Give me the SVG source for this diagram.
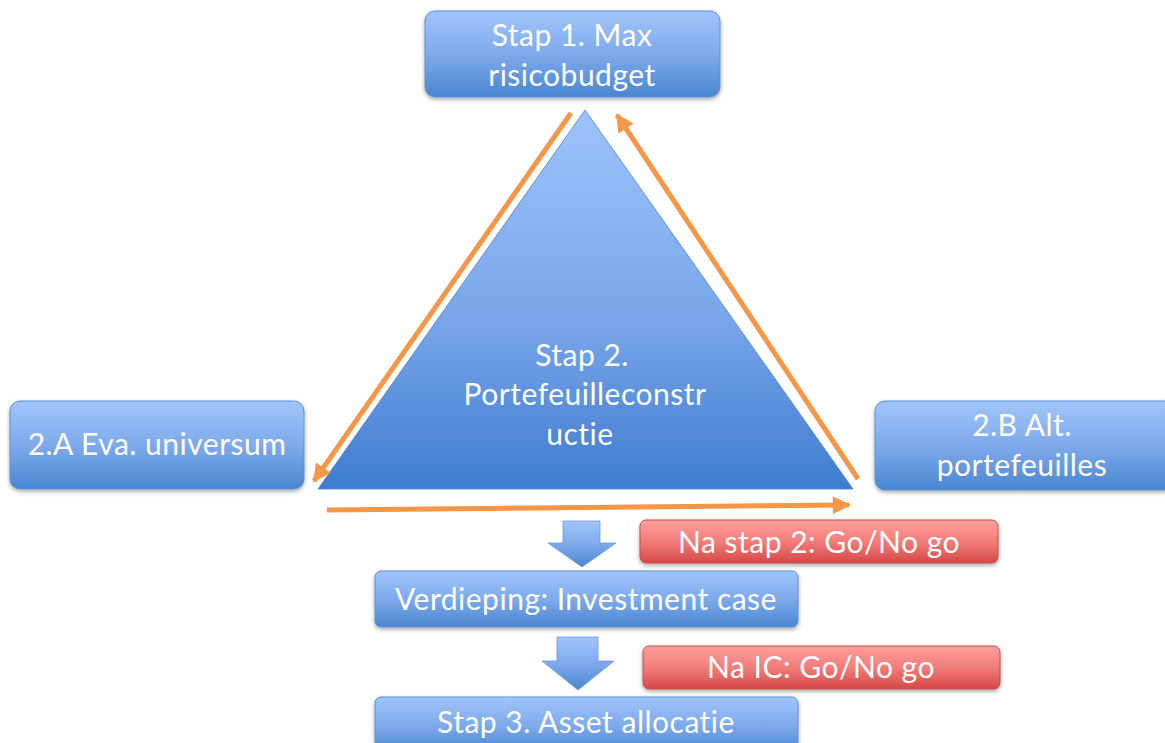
<svg xmlns="http://www.w3.org/2000/svg" width="1165" height="743" viewBox="0 0 1165 743">
<defs>
<linearGradient id="gBlue" x1="0" y1="0" x2="0" y2="1">
<stop offset="0" stop-color="#a0c5fa"/>
<stop offset="0.5" stop-color="#7eaaec"/>
<stop offset="1" stop-color="#4a86d0"/>
</linearGradient>
<linearGradient id="gTri" x1="0" y1="0" x2="0" y2="1">
<stop offset="0" stop-color="#9dc3fb"/>
<stop offset="0.55" stop-color="#78a6ea"/>
<stop offset="1" stop-color="#3f7cce"/>
</linearGradient>
<linearGradient id="gRed" x1="0" y1="0" x2="0" y2="1">
<stop offset="0" stop-color="#ff9f9c"/>
<stop offset="0.5" stop-color="#f27d7a"/>
<stop offset="1" stop-color="#d64846"/>
</linearGradient>
<filter id="sh" x="-10%" y="-10%" width="120%" height="130%">
<feDropShadow dx="0" dy="2" stdDeviation="2" flood-color="#000" flood-opacity="0.35"/>
</filter>
<marker id="ah" viewBox="0 0 10 10" refX="9" refY="5" markerWidth="3.8" markerHeight="3.6" orient="auto" markerUnits="strokeWidth">
<path d="M0,0 L10,5 L0,10 z" fill="#f79646"/>
</marker>
</defs>
<style>
.box{fill:url(#gBlue);stroke:#5b8fd6;stroke-width:1;filter:url(#sh)}
.red{fill:url(#gRed);stroke:#c0504d;stroke-width:1;filter:url(#sh)}
.t{font-family:Lato,"Liberation Sans",sans-serif;font-size:30px;letter-spacing:0.5px;fill:#ffffff;text-anchor:middle}
.con{stroke:#f79646;stroke-width:5;fill:none;marker-end:url(#ah)}
.blk{fill:url(#gBlue);stroke:#6b9be0;stroke-width:0.8}
</style>
<rect width="1165" height="743" fill="#ffffff"/>

<g id="tri">
<polygon points="585,110 318,489 853,489" fill="url(#gTri)" stroke="#4a7fc8" stroke-width="0.8"/>
<text class="t" x="582" y="366">Stap 2.</text>
<text class="t" x="585" y="405">Portefeuilleconstr</text>
<text class="t" x="580" y="445">uctie</text>
</g>

<g id="stap1">
<rect class="box" x="425" y="11" width="295" height="86" rx="10"/>
<text class="t" x="572" y="46">Stap 1. Max</text>
<text class="t" x="572" y="86">risicobudget</text>
</g>

<g id="eva">
<rect class="box" x="10" y="401" width="294" height="88" rx="10"/>
<text class="t" x="157" y="455">2.A Eva. universum</text>
</g>

<g id="alt">
<rect class="box" x="875" y="401" width="300" height="89" rx="10"/>
<text class="t" x="1022" y="436">2.B Alt.</text>
<text class="t" x="1022" y="476">portefeuilles</text>
</g>

<g id="connectors">
<line class="con" x1="571" y1="113" x2="314" y2="481"/>
<line class="con" x1="858" y1="479" x2="617" y2="115"/>
<line class="con" x1="327" y1="510" x2="849" y2="505"/>
</g>

<g id="arrow1">
<polygon class="blk" points="563,521 600,521 600,543 616,543 582,567 548,543 563,543"/>
</g>

<g id="gonogo1">
<rect class="red" x="640" y="520" width="358" height="43" rx="6"/>
<text class="t" x="819" y="553">Na stap 2: Go/No go</text>
</g>

<g id="verdieping">
<rect class="box" x="375" y="571" width="423" height="56" rx="6"/>
<text class="t" x="586" y="610">Verdieping: Investment case</text>
</g>

<g id="arrow2">
<polygon class="blk" points="557,637 598,637 598,661 614,661 578,690 542,661 557,661"/>
</g>

<g id="gonogo2">
<rect class="red" x="643" y="646" width="357" height="43" rx="6"/>
<text class="t" x="821" y="678">Na IC: Go/No go</text>
</g>

<g id="stap3">
<rect class="box" x="375" y="697" width="423" height="56" rx="6"/>
<text class="t" x="586" y="733">Stap 3. Asset allocatie</text>
</g>
</svg>
